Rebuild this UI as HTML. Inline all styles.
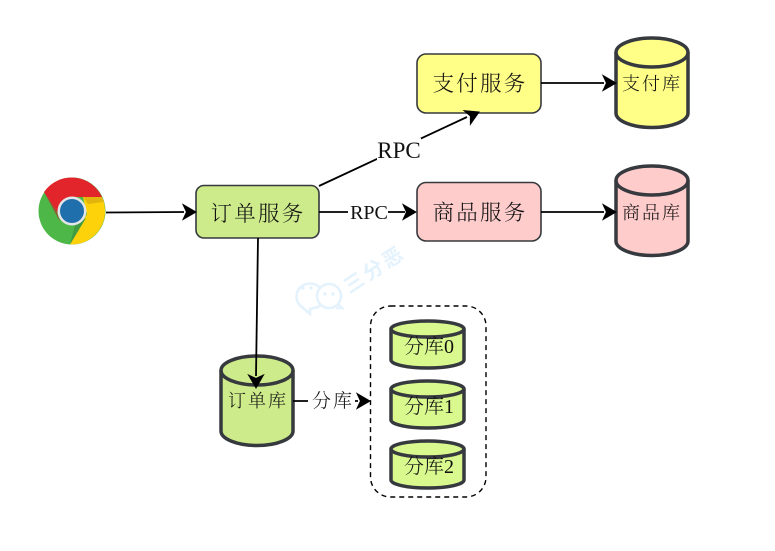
<!DOCTYPE html>
<html><head><meta charset="utf-8"><style>
html,body{margin:0;padding:0;background:#fff;width:775px;height:551px;overflow:hidden}
svg{display:block}
text{font-family:"Liberation Serif","Noto Serif CJK SC",serif;fill:#111;text-anchor:middle;font-weight:300}
.b{font-size:21.5px;letter-spacing:2.2px}
.c{font-size:18px;letter-spacing:2px}
.e{font-size:19px;letter-spacing:2px}
.r{font-size:23px}
.r2{font-size:20px}
.box{stroke:#36393d;stroke-width:1.6}
.cy{stroke:#36393d;stroke-width:3.5}
.ln{stroke:#000;stroke-width:1.8;fill:none}
</style></head><body>
<svg width="775" height="551" viewBox="0 0 775 551" xmlns="http://www.w3.org/2000/svg">
<defs>
<g id="ah"><path d="M0 0L-13 -7.500L-9.500 0L-13 7.500Z" fill="#000" stroke="#000" stroke-width="1"/></g>
</defs>

<!-- watermark -->
<g fill="none" stroke="#e3f2fc" stroke-width="2.5">
<path d="M318 307a13.500 13 0 1 0-16 0l8 7 0-5z" fill="#fff"/>
<circle cx="329" cy="296" r="12" fill="#fff"/>
<path d="M338 304l4 4-6 0"/>
</g>
<g fill="#e3f2fc"><circle cx="311" cy="288" r="1.700"/><circle cx="303" cy="288" r="1.700"/><circle cx="325" cy="294" r="1.700"/><circle cx="333" cy="294" r="1.700"/></g>
<text x="375" y="276" transform="rotate(-33 375 270)" style="font-family:'Liberation Sans','Noto Sans CJK SC',sans-serif;font-size:20px;letter-spacing:3px;fill:#e3f2fc;font-weight:bold">三分恶</text>

<!-- chrome -->
<g>
<circle cx="72" cy="211" r="33.500" fill="#4db848"/>
<path d="M44 192A33.500 33.500 0 0 1 102 197L72 197L57 212Z" fill="#e2242b"/>
<path d="M102 197A33.500 33.500 0 0 1 70 244.500L87 214L83 197Z" fill="#fdd20a"/>
<path d="M83 197L102 197L104 202L88 204Z" fill="#e3b50c"/>
<path d="M44 192L57 212L60 222Z" fill="#b5262a" opacity=".6"/>
<path d="M70 244.500L75 225L86 218Z" fill="#3f9a41"/>
<circle cx="72" cy="211" r="14.500" fill="#e3e6e8"/>
<circle cx="72" cy="211" r="12" fill="#1f6fac"/>
</g>

<!-- nodes -->
<rect class="box" x="196" y="185.500" width="123" height="52.500" rx="8" fill="#cdeb8b"/>
<text class="b" x="258" y="221">订单服务</text>
<rect class="box" x="417" y="54" width="124" height="59" rx="9" fill="#ffff88"/>
<text class="b" x="480" y="91">支付服务</text>
<rect class="box" x="417" y="182.500" width="124" height="58.500" rx="9" fill="#ffcccc"/>
<text class="b" x="480" y="220">商品服务</text>

<!-- cylinders -->
<g class="cy">
<path d="M616 52.500V113A36 14.500 0 0 0 688 113V52.500A36 14.500 0 0 0 616 52.500Z" fill="#ffff88"/>
<path d="M616 52.500A36 14.500 0 0 0 688 52.500" fill="none"/>
<path d="M616 180.500V241A36 14.500 0 0 0 688 241V180.500A36 14.500 0 0 0 616 180.500Z" fill="#ffcccc"/>
<path d="M616 180.500A36 14.500 0 0 0 688 180.500" fill="none"/>
<path d="M221 370.500V431A36 14.500 0 0 0 293 431V370.500A36 14.500 0 0 0 221 370.500Z" fill="#cdeb8b"/>
<path d="M221 370.500A36 14.500 0 0 0 293 370.500" fill="none"/>
<path d="M391 329V360A36.500 8 0 0 0 464 360V329A36.500 8 0 0 0 391 329Z" fill="#d9f98f"/>
<path d="M391 329A36.500 8 0 0 0 464 329" fill="none"/>
<path d="M391 389V420A36.500 8 0 0 0 464 420V389A36.500 8 0 0 0 391 389Z" fill="#d9f98f"/>
<path d="M391 389A36.500 8 0 0 0 464 389" fill="none"/>
<path d="M391 449V480A36.500 8 0 0 0 464 480V449A36.500 8 0 0 0 391 449Z" fill="#d9f98f"/>
<path d="M391 449A36.500 8 0 0 0 464 449" fill="none"/>
</g>
<text class="c" x="652" y="90">支付库</text>
<text class="c" x="652" y="219">商品库</text>
<text class="c" x="258" y="407">订单库</text>
<text class="r2" x="429" y="353">分库0</text>
<text class="r2" x="429" y="413">分库1</text>
<text class="r2" x="429" y="473">分库2</text>

<!-- dashed group -->
<rect x="370.500" y="306" width="115.500" height="191" rx="20" fill="none" stroke="#000" stroke-width="1.400" stroke-dasharray="5 4"/>

<!-- connectors -->
<path class="ln" d="M106 212.500L184 212"/><use href="#ah" transform="translate(196 212)"/>
<path class="ln" d="M319 212L405 212"/><use href="#ah" transform="translate(416 212)"/>
<path class="ln" d="M319 186L467 117"/><use href="#ah" transform="translate(479 112) rotate(-25)"/>
<path class="ln" d="M541 83L604 83"/><use href="#ah" transform="translate(616 83)"/>
<path class="ln" d="M541 212L604 212"/><use href="#ah" transform="translate(616 212)"/>
<path class="ln" d="M258 238L256 376"/><use href="#ah" transform="translate(256 388) rotate(90)"/>
<path class="ln" d="M293 401L358 401"/><use href="#ah" transform="translate(370 401)"/>

<!-- edge labels -->
<rect x="377" y="138" width="44" height="22" fill="#fff"/>
<text class="r" x="399" y="158">RPC</text>
<rect x="348" y="204" width="40" height="17" fill="#fff"/>
<text class="r2" x="369" y="219">RPC</text>
<rect x="308" y="390" width="47" height="22" fill="#fff"/>
<text class="e" x="333" y="407">分库</text>
</svg>
</body></html>
